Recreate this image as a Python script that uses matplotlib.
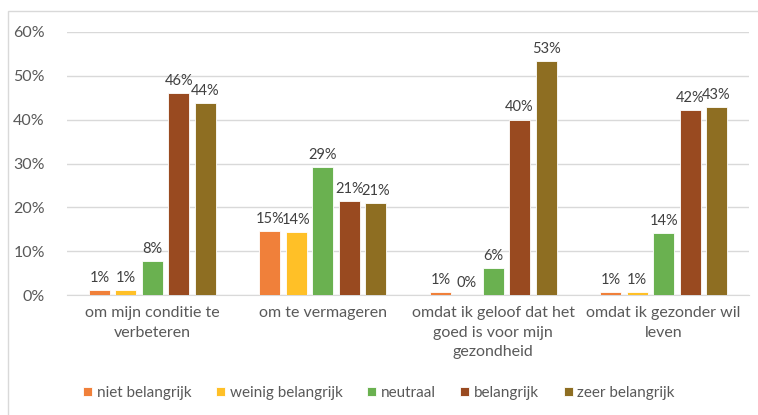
import numpy as np
import matplotlib.pyplot as plt
from matplotlib.patches import Rectangle

# ==================================
# DATA
# ==================================

categories = [
    "om mijn conditie te\nverbeteren",
    "om te vermageren",
    "omdat ik geloof dat het\ngoed is voor mijn\ngezondheid",
    "omdat ik gezonder wil\nleven",
]

series_names = [
    "niet belangrijk",
    "weinig belangrijk",
    "neutraal",
    "belangrijk",
    "zeer belangrijk",
]

niet_belangrijk = [1.1, 14.6, 0.6, 0.6]
weinig_belangrijk = [1.1, 14.3, 0.0, 0.6]
neutraal = [7.8, 29.2, 6.2, 14.2]
belangrijk = [46.1, 21.4, 40.0, 42.2]
zeer_belangrijk = [43.8, 21.0, 53.4, 42.9]

series_values = [niet_belangrijk, weinig_belangrijk, neutraal, belangrijk, zeer_belangrijk]
colors = ["#F0803A", "#FFC027", "#6AB150", "#994A20", "#8E6E22"]

# ==================================
# PLOT
# ==================================

plt.rcParams["font.family"] = ["Lato", "DejaVu Sans"]
text_color = "#595959"

fig = plt.figure(figsize=(7.58, 4.15), dpi=100)
ax = fig.add_axes([0.0884, 0.289, 0.8996, 0.634])

x = np.arange(len(categories))
pitch = 0.155
width = 0.123

for i, (name, vals, col) in enumerate(zip(series_names, series_values, colors)):
    pos = x + (i - 2) * pitch
    ax.bar(pos, np.array(vals) / 100, width=width, color=col,
           edgecolor="white", linewidth=0.6, label=name, zorder=3)
    for p, v in zip(pos, vals):
        ax.text(p, v / 100 + 0.012, f"{round(v + 0.001):.0f}%",
                ha="center", va="bottom", fontsize=10.5, color="#404040")

ax.set_xlim(-0.5, len(categories) - 0.5)
ax.set_ylim(0, 0.6)
ax.set_yticks(np.arange(0, 0.61, 0.1))
ax.set_yticklabels([f"{t}%" for t in range(0, 61, 10)])
ax.set_xticks(x)
ax.set_xticklabels(categories, linespacing=1.5)

ax.grid(axis="y", color="#D9D9D9", linewidth=1, zorder=0)
for s in ["top", "right", "left"]:
    ax.spines[s].set_visible(False)
ax.spines["bottom"].set_color("#D9D9D9")
ax.tick_params(axis="both", length=0, labelsize=11.5, colors=text_color)
ax.tick_params(axis="y", pad=16)
ax.tick_params(axis="x", pad=8)

leg = fig.legend(loc="center", bbox_to_anchor=(0.5, 0.053), ncol=5,
                 frameon=False, fontsize=11, handlelength=0.6,
                 handleheight=0.6, handletextpad=0.3, columnspacing=1.6)
for t in leg.get_texts():
    t.set_color(text_color)

# outer chart frame
fig.patches.append(Rectangle((8 / 758, -0.01), 1.0, 1 - 11 / 415 + 0.01,
                             transform=fig.transFigure, fill=False,
                             edgecolor="#D9D9D9", linewidth=1))

plt.savefig("out.png", dpi=100)
plt.close()
